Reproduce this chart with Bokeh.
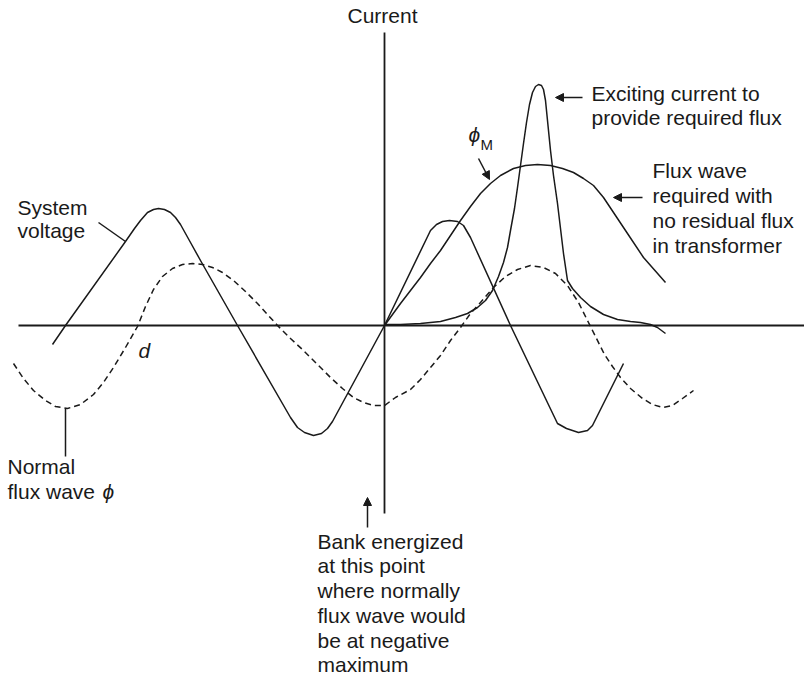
from bokeh.plotting import figure
from bokeh.models import Range1d, Label, Arrow, NormalHead
from bokeh.embed import file_html
from bokeh.resources import INLINE

# ---------------- data (arbitrary units, origin = switching instant) ----------------
voltage_t = [-332, -319, -259, -250, -244, -237, -231, -226, -220, -214, -209, -204, -194, -184,
             -147, -94, -87, -80, -71, -63, -57, -52, 0, 46, 52, 58, 65, 73, 79, 86,
             126, 173, 182, 194, 203, 208, 239]
voltage_v = [-19, 0, 84, 97, 105, 113, 116, 117, 116, 113, 108, 101, 83, 65,
             0, -92, -102, -107, -110, -108, -103, -96, 0, 95, 101, 104, 105, 104, 100, 88,
             0, -98, -103, -107, -105, -100, -38]

normal_flux_t = [-371, -361, -351, -339, -329, -317, -304, -291, -281, -271, -259, -247, -239, -231,
                 -222, -212, -202, -192, -182, -172, -162, -151, -139, -127, -117, -107, -94, -81,
                 -67, -54, -42, -31, -21, -11, 0, 11, 26, 36, 46, 56, 66, 76, 86, 96, 109, 121,
                 133, 146, 159, 171, 183, 194, 204, 212, 220, 228, 236, 246, 258, 268, 278, 288,
                 298, 309]
normal_flux_v = [-38, -53, -65, -75, -81, -83, -79, -69, -57, -42, -22, -1, 19, 36,
                 49, 57, 61, 62, 61, 58, 53, 45, 34, 22, 11, 0, -13, -25,
                 -39, -52, -63, -72, -77, -80, -80, -72, -64, -54, -42, -30, -15, -2, 12, 23, 38, 49,
                 56, 60, 58, 52, 40, 23, 3, -13, -29, -41, -52, -63, -73, -79, -82, -80,
                 -73, -65]

required_flux_t = [0, 8, 16, 26, 36, 46, 56, 66, 76, 86, 96, 106, 116, 129, 141, 153, 166, 178,
                   189, 199, 209, 219, 229, 243, 259, 281]
required_flux_v = [0, 11, 22, 35, 48, 62, 75, 90, 105, 119, 132, 142, 150, 157, 160, 161, 160, 157,
                   153, 147, 140, 128, 113, 92, 68, 43]

exciting_t = [0, 16, 36, 56, 71, 83, 93, 101, 108, 114, 119, 123, 126, 130, 133, 136, 139, 142,
              145, 148, 151, 154, 157, 159, 161, 163, 166, 169, 173, 176, 179, 183, 188, 196,
              206, 219, 233, 246, 256, 266, 273, 281]
exciting_i = [1, 1, 2, 4, 8, 12, 18, 25, 35, 49, 63, 78, 95, 117, 138, 160, 182, 203,
              221, 233, 239, 241, 240, 236, 225, 205, 175, 150, 122, 97, 72, 45, 37, 28,
              19, 11, 6, 4, 3, 1, -2, -8]

# axes of the diagram
h_axis_t = [-366, 420]
v_axis_v = [-188, 293]

# leader lines (x0, y0, x1, y1)
leader_x0 = [-286, -319]
leader_y0 = [103, -83]
leader_x1 = [-259, -319]
leader_y1 = [84, -131]

# arrows: tail -> tip
arrow_x_start = [-17, 198, 258, 94]
arrow_y_start = [-202, 228, 128, 167]
arrow_x_end = [-17, 171, 229, 105]
arrow_y_end = [-172, 228, 128, 146]

# text labels
label_texts = ["Exciting current to", "provide required flux",
               "Flux wave", "required with", "no residual flux", "in transformer",
               "System", "voltage", "Normal", "flux wave",
               "Bank energized", "at this point", "where normally", "flux wave would",
               "be at negative", "maximum"]
label_x = [207, 207, 268, 268, 268, 268, -367, -367, -377, -377,
           -67, -67, -67, -67, -67, -67]
label_y = [232, 208, 155, 130, 105, 80, 118, 95, -141, -166,
           -216, -240, -265, -290, -315, -339]

italic_texts = ["\u03d5", "d", "\u03d5"]
italic_x = [-282, -246, 84]
italic_y = [-166, -25, 191]

title_text = "Current"
title_x = -2
title_y = 310

sub_text = "M"
sub_x = 96
sub_y = 181

INK = "#1a1a1a"
FONT = "Liberation Sans"

p = figure(width=804, height=677, x_range=Range1d(-384, 420), y_range=Range1d(-352, 325),
           x_axis_type=None, y_axis_type=None, toolbar_location=None,
           output_backend="svg", min_border=0)
p.outline_line_color = None
p.background_fill_color = "white"
p.border_fill_color = "white"

# axes
p.line(h_axis_t, [0, 0], line_color=INK, line_width=1.8)
p.line([0, 0], v_axis_v, line_color=INK, line_width=1.8)

# curves
p.line(voltage_t, voltage_v, line_color=INK, line_width=1.5, line_join="round")
p.line(normal_flux_t, normal_flux_v, line_color=INK, line_width=1.5, line_dash="6 4")
p.line(required_flux_t, required_flux_v, line_color=INK, line_width=1.5, line_join="round")
p.line(exciting_t, exciting_i, line_color=INK, line_width=1.5, line_join="round")

# leaders
p.segment(leader_x0, leader_y0, leader_x1, leader_y1, line_color=INK, line_width=1.5)

for xs, ys, xe, ye in zip(arrow_x_start, arrow_y_start, arrow_x_end, arrow_y_end):
    p.add_layout(Arrow(x_start=xs, y_start=ys, x_end=xe, y_end=ye, line_color=INK, line_width=1.5,
                       end=NormalHead(size=8, fill_color=INK, line_color=INK, line_width=1)))

for t, x, y in zip(label_texts, label_x, label_y):
    p.add_layout(Label(x=x, y=y, text=t, text_font=FONT, text_font_size="21px",
                       text_color=INK, text_baseline="alphabetic", text_align="left"))

p.add_layout(Label(x=title_x, y=title_y, text=title_text, text_font=FONT, text_font_size="21px",
                   text_color=INK, text_baseline="alphabetic", text_align="center"))

for t, x, y in zip(italic_texts, italic_x, italic_y):
    p.add_layout(Label(x=x, y=y, text=t, text_font=FONT, text_font_size="21px",
                       text_font_style="italic", text_color=INK, text_baseline="alphabetic"))

p.add_layout(Label(x=sub_x, y=sub_y, text=sub_text, text_font=FONT, text_font_size="15px",
                   text_color=INK, text_baseline="alphabetic"))

open("out.html", "w").write(file_html(p, INLINE))
